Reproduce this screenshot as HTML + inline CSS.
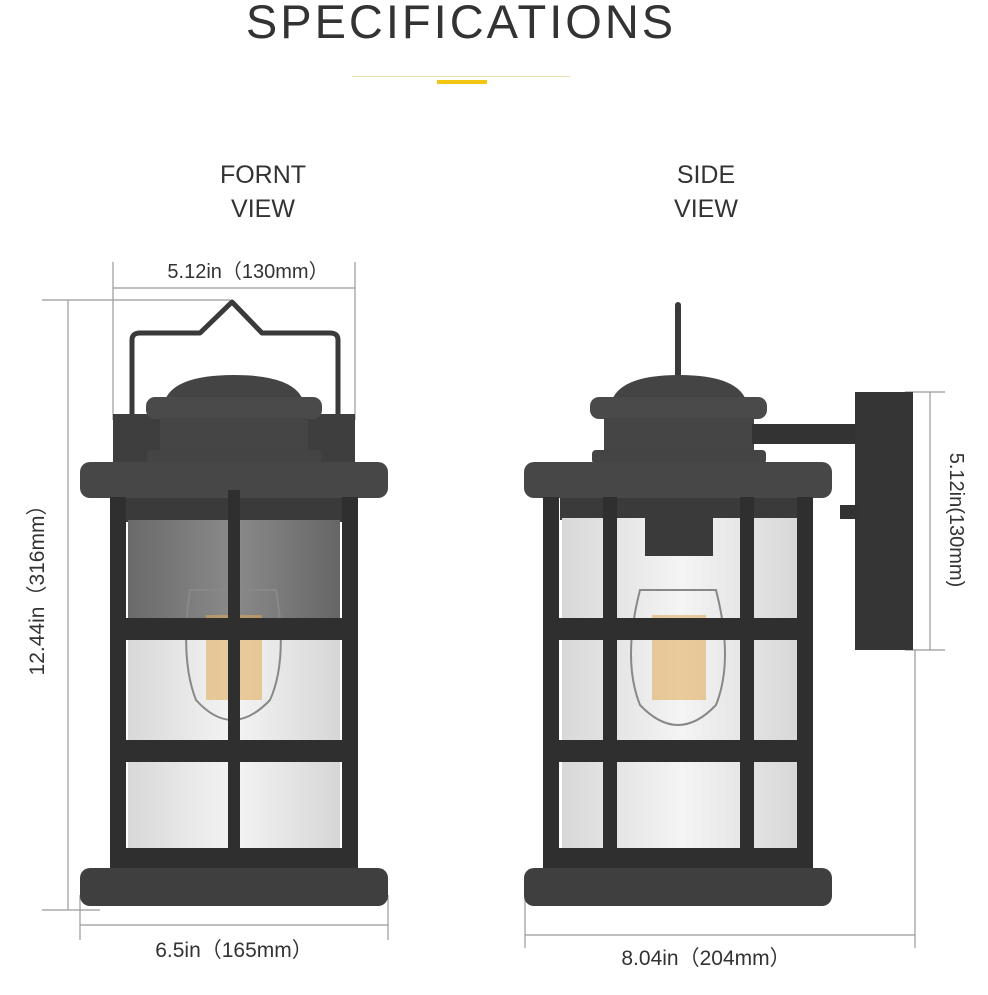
<!DOCTYPE html>
<html><head><meta charset="utf-8"><style>
html,body{margin:0;padding:0;background:#fff;}
body{width:988px;height:990px;overflow:hidden;}
svg text{font-family:"Liberation Sans","Noto Sans CJK SC",sans-serif;fill:#333;}
</style></head><body>
<svg width="988" height="990" viewBox="0 0 988 990" xmlns="http://www.w3.org/2000/svg">
<defs>
<linearGradient id="glass" x1="0" x2="1"><stop offset="0" stop-color="#d8d8d8"/><stop offset="0.5" stop-color="#f4f4f4"/><stop offset="1" stop-color="#d6d6d6"/></linearGradient>
<linearGradient id="glassTop" x1="0" x2="1"><stop offset="0" stop-color="#6a6a6a"/><stop offset="0.5" stop-color="#8a8a8a"/><stop offset="1" stop-color="#666"/></linearGradient>
</defs>
<text x="461" y="38" font-size="47" text-anchor="middle" letter-spacing="3" fill="#222">SPECIFICATIONS</text>
<rect x="352" y="76" width="218" height="1" fill="#e8dfb0"/>
<rect x="437" y="80" width="50" height="4" fill="#f2c414"/>
<text x="263" y="183" font-size="25" text-anchor="middle">FORNT</text>
<text x="263" y="217" font-size="25" text-anchor="middle">VIEW</text>
<text x="706" y="183" font-size="25" text-anchor="middle">SIDE</text>
<text x="706" y="217" font-size="25" text-anchor="middle">VIEW</text>

<g stroke="#999" stroke-width="1.2" fill="none">
<line x1="113" y1="288" x2="355" y2="288"/><line x1="113" y1="262" x2="113" y2="420"/><line x1="355" y1="262" x2="355" y2="420"/>
<line x1="68" y1="300" x2="68" y2="910"/><line x1="42" y1="300" x2="230" y2="300"/><line x1="42" y1="910" x2="100" y2="910"/>
<line x1="80" y1="925" x2="388" y2="925"/><line x1="80" y1="895" x2="80" y2="940"/><line x1="388" y1="895" x2="388" y2="940"/>
<line x1="525" y1="935" x2="915" y2="935"/><line x1="525" y1="895" x2="525" y2="948"/><line x1="915" y1="650" x2="915" y2="948"/>
<line x1="930" y1="392" x2="930" y2="650"/><line x1="905" y1="392" x2="945" y2="392"/><line x1="905" y1="650" x2="945" y2="650"/>
</g>
<text x="248" y="278" font-size="20" text-anchor="middle">5.12in（130mm）</text>
<text x="234" y="957" font-size="21" text-anchor="middle">6.5in（165mm）</text>
<text x="706" y="965" font-size="21" text-anchor="middle">8.04in（204mm）</text>
<text transform="translate(44,585) rotate(-90)" font-size="21" text-anchor="middle">12.44in（316mm）</text>
<text transform="translate(950,520) rotate(90)" font-size="20" text-anchor="middle">5.12in(130mm)</text>

<g>
<path d="M132 425 L132 340 Q132 333 140 333 L200 333 L232 302 L262 333 L330 333 Q338 333 338 340 L338 425" stroke="#3a3a3a" stroke-width="5" fill="none" stroke-linejoin="round"/>
<rect x="113" y="414" width="242" height="52" fill="#3e3e3e"/>
<path d="M165 400 Q175 375 234 375 Q293 375 303 400 Z" fill="#444"/>
<rect x="146" y="397" width="176" height="22" rx="9" fill="#4a4a4a"/>
<rect x="160" y="418" width="148" height="34" fill="#454545"/>
<rect x="147" y="450" width="174" height="14" rx="4" fill="#444"/>
<rect x="80" y="462" width="308" height="36" rx="10" fill="#474747"/>
<rect x="125" y="498" width="218" height="24" fill="#3a3a3a"/>
<rect x="128" y="520" width="212" height="100" fill="url(#glassTop)"/>
<rect x="128" y="620" width="212" height="232" fill="url(#glass)"/>
<path d="M190 590 Q180 660 196 700 Q232 740 270 700 Q288 660 276 590 Z" fill="none" stroke="#888" stroke-width="2"/>
<rect x="206" y="615" width="56" height="85" fill="#e0a850" opacity="0.55"/>
<g fill="#2f2f2f">
<rect x="110" y="497" width="16" height="375"/><rect x="342" y="497" width="16" height="375"/>
<rect x="228" y="490" width="12" height="382"/>
<rect x="110" y="618" width="248" height="22"/><rect x="110" y="740" width="248" height="22"/>
<rect x="110" y="848" width="248" height="22"/>
</g>
<rect x="80" y="868" width="308" height="38" rx="10" fill="#3f3f3f"/>
</g>

<g>
<path d="M678 425 L678 305" stroke="#3a3a3a" stroke-width="6" fill="none" stroke-linecap="round"/>
<path d="M612 400 Q622 375 679 375 Q736 375 746 400 Z" fill="#444"/>
<rect x="590" y="397" width="177" height="22" rx="9" fill="#4a4a4a"/>
<rect x="604" y="418" width="150" height="34" fill="#454545"/>
<rect x="592" y="450" width="174" height="14" rx="4" fill="#444"/>
<rect x="752" y="424" width="108" height="20" fill="#333"/>
<rect x="855" y="392" width="58" height="258" fill="#353535"/>
<rect x="840" y="505" width="20" height="14" fill="#333"/>
<rect x="524" y="462" width="308" height="36" rx="10" fill="#474747"/>
<rect x="560" y="498" width="244" height="22" fill="#3a3a3a"/>
<rect x="562" y="518" width="240" height="334" fill="url(#glass)"/>
<rect x="645" y="518" width="68" height="38" fill="#3a3a3a"/>
<path d="M640 590 Q622 660 640 705 Q678 745 716 705 Q734 660 716 590 Z" fill="none" stroke="#888" stroke-width="2"/>
<rect x="652" y="615" width="54" height="85" fill="#e0a850" opacity="0.55"/>
<g fill="#2f2f2f">
<rect x="543" y="497" width="16" height="375"/><rect x="797" y="497" width="16" height="375"/>
<rect x="603" y="497" width="14" height="375"/><rect x="740" y="497" width="14" height="375"/>
<rect x="543" y="618" width="270" height="22"/><rect x="543" y="740" width="270" height="22"/>
<rect x="543" y="848" width="270" height="22"/>
</g>
<rect x="524" y="868" width="308" height="38" rx="10" fill="#3f3f3f"/>
</g>
</svg>
</body></html>
